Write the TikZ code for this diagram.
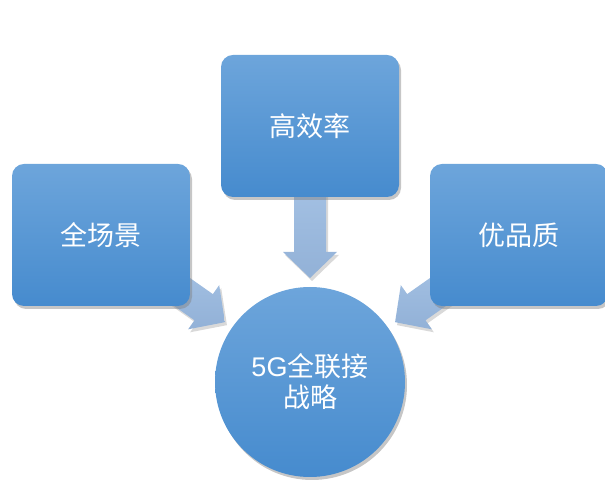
\documentclass[tikz,border=0pt]{standalone}
\usepackage{fontspec}
\setmainfont{Liberation Sans}
\newfontfamily\cjk{Noto Sans CJK SC}
\usetikzlibrary{calc,shadows,backgrounds}
\definecolor{boxtop}{HTML}{6DA5DB}
\definecolor{boxbot}{HTML}{468BCE}
\definecolor{arrtop}{HTML}{AFCBEB}
\definecolor{arrbot}{HTML}{92B1D7}
\tikzset{
	goalbox/.style={rounded corners=12pt,minimum width=178pt,minimum height=142pt,
		top color=boxtop,bottom color=boxbot,
		drop shadow={opacity=0.45,shadow xshift=2pt,shadow yshift=-3pt},
		text=white,font=\cjk\fontsize{27}{31}\selectfont},
	corecircle/.style={circle,minimum size=190pt,top color=boxtop,bottom color=boxbot,
		drop shadow={opacity=0.45,shadow xshift=2pt,shadow yshift=-3pt},
		text=white,align=center,font=\fontsize{27}{31}\selectfont},
	arrowfill/.style={top color=arrtop,bottom color=arrbot,
		drop shadow={opacity=0.3,shadow xshift=2pt,shadow yshift=-3pt}}
}
% block arrow from #1 to #2
\newcommand{\fatarrow}[2]{%
	\coordinate (hb) at ($(#2)!26pt!(#1)$);
	\path[arrowfill] ($(#1)!16pt!90:(#2)$) -- ($(hb)!16pt!90:(#2)$)
		-- ($(hb)!27pt!90:(#2)$) -- (#2) -- ($(hb)!27pt!-90:(#2)$)
		-- ($(hb)!16pt!-90:(#2)$) -- ($(#1)!16pt!-90:(#2)$) -- cycle;
}

\begin{document}
\begin{tikzpicture}[x=1pt,y=1pt]
	\clip (0,0) rectangle (605,481);
	\node[goalbox] (scene) at (101,246) {全场景};
	\node[goalbox] (effic) at (310,355) {高效率};
	\node[goalbox] (quality) at (519,246) {优品质};
	\node[corecircle] (core) at (310,99) {5G{\cjk 全联接}\\{\cjk 战略}};
	\begin{scope}[on background layer]
		\coordinate (tipL) at ($(core.center)!104pt!(scene.center)$);
		\coordinate (tipT) at ($(core.center)!104pt!(effic.center)$);
		\coordinate (tipR) at ($(core.center)!104pt!(quality.center)$);
		\fatarrow{scene.center}{tipL}
		\fatarrow{effic.center}{tipT}
		\fatarrow{quality.center}{tipR}
	\end{scope}
\end{tikzpicture}
\end{document}
